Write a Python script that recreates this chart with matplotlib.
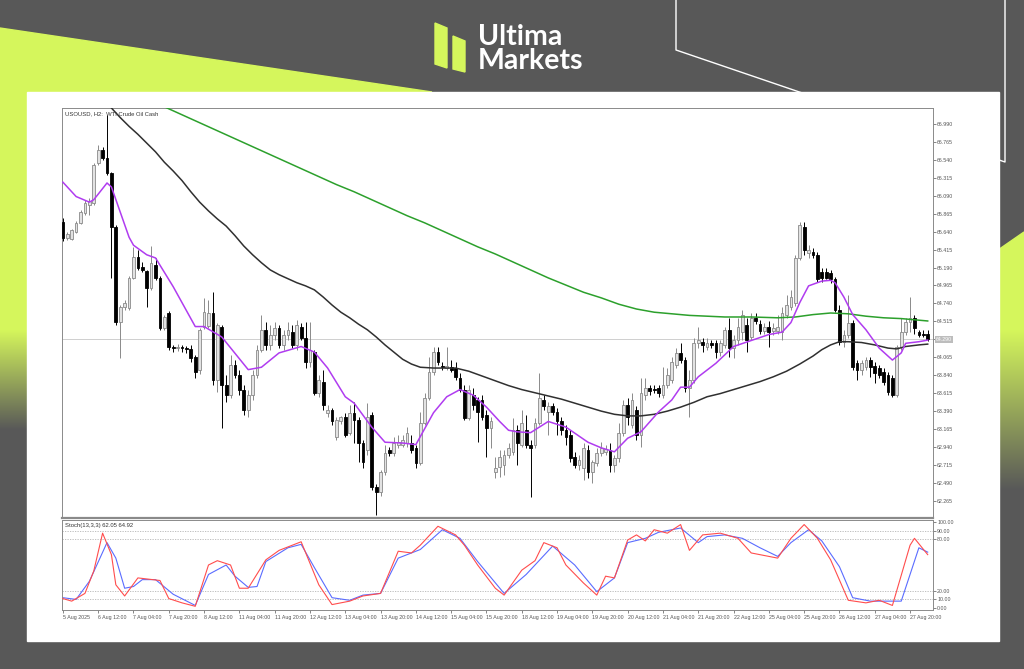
import numpy as np
import matplotlib.pyplot as plt
from matplotlib.patches import Polygon, Rectangle

# ---- USOUSD H2 candles ----
opens = [65.76, 65.56, 65.55, 65.64, 65.75, 65.87, 65.98, 66.00, 66.50, 66.66,
         66.56, 66.38, 65.70, 64.51, 64.70, 64.68, 65.06, 65.32, 65.20, 65.15,
         64.93, 65.22, 65.06, 64.43, 64.62, 64.19, 64.18, 64.19, 64.18, 64.17,
         64.07, 63.91, 64.45, 64.46, 64.62, 63.78, 64.45, 63.72, 63.59, 63.97,
         63.84, 63.66, 63.40, 63.59, 63.84, 64.16, 64.41, 64.22, 64.35, 64.43,
         64.22, 64.35, 64.38, 64.22, 64.45, 64.31, 64.01, 64.13, 63.62, 63.76,
         63.37, 63.41, 63.07, 63.26, 63.32, 63.12, 63.37, 63.28, 62.99, 62.90,
         63.34, 62.44, 62.37, 62.63, 62.90, 62.87, 62.97, 62.97, 62.99, 62.99,
         62.93, 62.74, 63.24, 63.56, 63.88, 64.13, 63.96, 63.93, 63.94, 63.93,
         63.81, 63.66, 63.30, 63.59, 63.53, 63.53, 63.34, 63.18, 62.63, 62.69,
         62.72, 62.84, 62.88, 63.15, 62.97, 63.15, 62.97, 62.97, 63.24, 63.53,
         63.38, 63.46, 63.38, 63.26, 63.15, 63.09, 62.82, 62.72, 62.68, 62.90,
         62.63, 62.74, 62.87, 62.88, 62.90, 62.72, 62.80, 63.12, 63.47, 63.22,
         63.40, 63.09, 63.59, 63.68, 63.67, 63.68, 63.59, 63.72, 63.78, 63.97,
         64.12, 64.03, 63.68, 63.78, 64.24, 64.26, 64.19, 64.24, 64.24, 64.13,
         64.22, 64.41, 64.18, 64.28, 64.38, 64.47, 64.32, 64.56, 64.48, 64.40,
         64.45, 64.40, 64.40, 64.38, 64.60, 64.70, 64.75, 65.31, 65.70, 65.37,
         65.39, 65.35, 65.14, 65.14, 65.12, 65.04, 64.66, 64.26, 64.35, 64.50,
         63.99, 63.91, 63.94, 64.03, 63.96, 63.93, 63.88, 63.84, 63.81, 63.59,
         64.19, 64.38, 64.51, 64.56, 64.38, 64.36, 64.36]
highs = [65.81, 65.64, 65.67, 65.77, 65.91, 66.04, 66.06, 66.50, 66.73, 66.70,
         67.10, 66.39, 65.72, 64.72, 64.78, 65.09, 65.45, 65.41, 65.26, 65.16,
         65.46, 65.31, 65.09, 64.60, 64.65, 64.22, 64.23, 64.22, 64.21, 64.22,
         64.09, 64.43, 64.81, 64.78, 64.88, 64.50, 64.47, 63.84, 64.09, 64.03,
         63.91, 63.72, 63.65, 63.91, 64.22, 64.60, 64.51, 64.47, 64.51, 64.47,
         64.41, 64.51, 64.47, 64.53, 64.50, 64.51, 64.51, 64.16, 63.84, 63.91,
         63.47, 63.43, 63.31, 63.33, 63.37, 63.47, 63.50, 63.31, 63.03, 63.49,
         63.38, 62.47, 62.65, 62.97, 62.94, 63.07, 63.09, 63.09, 63.19, 63.09,
         62.97, 63.38, 63.62, 64.07, 64.19, 64.19, 64.01, 64.19, 64.03, 64.01,
         63.87, 63.72, 63.72, 63.68, 63.57, 63.59, 63.40, 63.31, 62.82, 62.90,
         62.90, 62.99, 63.30, 63.22, 63.40, 63.34, 63.03, 63.30, 63.87, 63.59,
         63.50, 63.49, 63.43, 63.31, 63.22, 63.15, 62.88, 62.84, 62.99, 62.97,
         62.78, 62.93, 63.00, 62.97, 62.99, 62.84, 63.24, 63.53, 63.56, 63.62,
         63.45, 63.81, 63.81, 63.72, 63.72, 63.72, 63.94, 63.93, 64.07, 64.18,
         64.24, 64.07, 63.91, 64.31, 64.44, 64.31, 64.31, 64.28, 64.28, 64.28,
         64.45, 64.56, 64.35, 64.56, 64.66, 64.56, 64.62, 64.62, 64.53, 64.50,
         64.52, 64.50, 64.60, 64.69, 64.85, 64.91, 65.35, 65.76, 65.76, 65.47,
         65.44, 65.39, 65.19, 65.19, 65.16, 65.07, 64.72, 64.41, 64.85, 64.53,
         64.03, 64.03, 64.07, 64.07, 64.01, 63.97, 63.93, 63.88, 63.84, 64.22,
         64.56, 64.56, 64.82, 64.60, 64.41, 64.41, 64.41]
lows = [65.52, 65.54, 65.54, 65.62, 65.74, 65.85, 65.85, 65.98, 66.48, 66.54,
        66.35, 65.06, 64.47, 64.06, 64.66, 64.66, 65.05, 65.16, 65.14, 64.70,
        64.91, 65.03, 64.41, 64.41, 64.16, 64.13, 64.14, 64.13, 64.12, 64.01,
        63.81, 63.86, 64.42, 64.43, 63.72, 63.63, 63.18, 63.51, 63.56, 63.81,
        63.59, 63.34, 63.31, 63.53, 63.81, 64.13, 64.16, 64.16, 64.28, 64.18,
        64.16, 64.28, 64.18, 64.16, 64.28, 63.93, 63.94, 63.59, 63.57, 63.41,
        63.31, 63.22, 63.03, 63.23, 63.07, 63.09, 62.99, 62.75, 62.68, 62.84,
        62.40, 62.09, 62.32, 62.59, 62.83, 62.83, 62.93, 62.94, 62.94, 62.87,
        62.68, 62.72, 63.22, 63.53, 63.84, 63.97, 63.91, 63.91, 63.88, 63.78,
        63.63, 63.28, 63.28, 63.40, 63.00, 63.28, 62.82, 62.93, 62.55, 62.57,
        62.59, 62.80, 62.84, 62.72, 62.94, 62.93, 62.31, 62.93, 63.22, 63.40,
        63.09, 63.34, 63.09, 63.09, 62.97, 62.75, 62.68, 62.65, 62.53, 62.55,
        62.49, 62.70, 62.83, 62.84, 62.63, 62.63, 62.75, 63.08, 63.22, 63.18,
        63.03, 62.94, 63.53, 63.59, 63.62, 63.57, 63.56, 63.68, 63.74, 63.93,
        63.99, 63.63, 63.32, 63.74, 64.18, 64.13, 64.16, 64.18, 64.06, 64.08,
        64.18, 64.07, 64.06, 64.22, 64.28, 64.13, 64.28, 64.48, 64.36, 64.36,
        64.19, 64.35, 64.36, 64.28, 64.56, 64.66, 64.71, 65.29, 65.35, 65.31,
        65.31, 65.01, 65.01, 65.04, 65.00, 64.63, 64.22, 64.19, 64.31, 63.91,
        63.78, 63.84, 63.91, 63.82, 63.74, 63.81, 63.72, 63.59, 63.57, 63.57,
        64.16, 64.35, 64.38, 64.36, 64.32, 64.32, 64.27]
closes = [65.56, 65.61, 65.66, 65.75, 65.89, 66.00, 66.03, 66.48, 66.66, 66.56,
          66.38, 65.70, 64.51, 64.70, 64.75, 65.06, 65.32, 65.19, 65.16, 64.93,
          65.25, 65.06, 64.43, 64.57, 64.19, 64.18, 64.19, 64.18, 64.17, 64.06,
          63.88, 64.41, 64.63, 64.62, 63.78, 64.47, 63.72, 63.59, 63.97, 63.84,
          63.66, 63.40, 63.59, 63.84, 64.16, 64.41, 64.22, 64.35, 64.43, 64.22,
          64.35, 64.41, 64.22, 64.47, 64.31, 64.01, 64.16, 63.62, 63.78, 63.47,
          63.41, 63.26, 63.28, 63.31, 63.09, 63.37, 63.28, 62.99, 62.75, 63.32,
          62.44, 62.37, 62.63, 62.87, 62.87, 62.99, 63.00, 63.03, 63.12, 62.90,
          62.74, 63.24, 63.56, 63.88, 64.13, 64.01, 63.94, 63.95, 63.91, 63.82,
          63.66, 63.30, 63.66, 63.47, 63.38, 63.32, 63.18, 63.26, 62.68, 62.82,
          62.84, 62.93, 63.15, 62.99, 63.24, 62.97, 62.93, 63.24, 63.56, 63.46,
          63.46, 63.38, 63.26, 63.15, 63.07, 62.80, 62.72, 62.78, 62.93, 62.63,
          62.75, 62.87, 62.93, 62.92, 62.72, 62.80, 63.12, 63.47, 63.32, 63.53,
          63.09, 63.62, 63.68, 63.64, 63.66, 63.62, 63.72, 63.84, 64.01, 64.12,
          64.03, 63.68, 63.78, 64.24, 64.28, 64.22, 64.24, 64.22, 64.13, 64.24,
          64.41, 64.18, 64.28, 64.45, 64.60, 64.28, 64.56, 64.52, 64.40, 64.45,
          64.38, 64.43, 64.45, 64.62, 64.72, 64.82, 65.31, 65.72, 65.41, 65.41,
          65.35, 65.04, 65.06, 65.06, 65.04, 64.66, 64.26, 64.35, 64.50, 63.94,
          63.91, 63.99, 64.03, 63.94, 63.87, 63.84, 63.76, 63.63, 63.59, 64.19,
          64.38, 64.51, 64.56, 64.43, 64.35, 64.35, 64.29]

# moving averages (bar index, value)
ma_fast_idx = [0, 3, 6, 7, 10, 11, 15, 16, 19, 21, 25, 30, 32, 36, 42, 45, 49, 54, 57, 60,
               64, 66, 68, 70, 73, 77, 80, 81, 84, 87, 90, 93, 96, 99, 101, 103, 106, 110,
               114, 119, 122, 125, 128, 131, 135, 138, 140, 142, 144, 148, 152, 160, 163,
               165, 167, 169, 172, 174, 175, 177, 179, 182, 185, 188, 190, 191, 194, 196]
ma_fast_val = [66.26, 66.08, 66.01, 66.04, 66.25, 66.20, 65.57, 65.47, 65.35, 65.31, 64.95,
               64.45, 64.45, 64.32, 63.91, 63.94, 64.12, 64.20, 64.13, 63.93, 63.57, 63.49,
               63.34, 63.19, 63.00, 62.99, 62.97, 63.07, 63.37, 63.57, 63.66, 63.59, 63.44,
               63.26, 63.15, 63.13, 63.12, 63.26, 63.19, 63.00, 62.93, 62.88, 63.05, 63.13,
               63.38, 63.53, 63.69, 63.69, 63.82, 63.99, 64.20, 64.35, 64.38, 64.50, 64.75,
               64.96, 65.02, 65.03, 65.00, 64.82, 64.60, 64.41, 64.18, 64.03, 64.12, 64.24,
               64.26, 64.28]
ma_mid_idx = [11, 13, 15, 17, 19, 21, 23, 25, 27, 29, 31, 33, 35, 37, 39, 41, 43, 45, 47, 49,
              51, 53, 55, 57, 59, 61, 63, 65, 67, 69, 71, 73, 75, 77, 79, 81, 84, 89, 92, 95,
              98, 101, 104, 107, 110, 113, 116, 119, 122, 125, 128, 131, 134, 137, 140, 143,
              146, 149, 152, 155, 158, 161, 164, 167, 170, 172, 174, 176, 178, 181, 184, 187,
              189, 191, 194, 196]
ma_mid_val = [67.19, 67.07, 66.96, 66.86, 66.75, 66.64, 66.51, 66.40, 66.28, 66.14, 66.01,
              65.90, 65.80, 65.71, 65.59, 65.46, 65.35, 65.25, 65.16, 65.10, 65.05, 65.00,
              64.96, 64.91, 64.82, 64.72, 64.63, 64.56, 64.48, 64.41, 64.32, 64.22, 64.13,
              64.04, 63.98, 63.94, 63.93, 63.93, 63.89, 63.83, 63.77, 63.71, 63.66, 63.62,
              63.58, 63.54, 63.49, 63.44, 63.39, 63.35, 63.33, 63.33, 63.35, 63.39, 63.44,
              63.50, 63.57, 63.61, 63.66, 63.71, 63.76, 63.82, 63.89, 63.98, 64.08, 64.16,
              64.22, 64.26, 64.26, 64.25, 64.22, 64.18, 64.17, 64.20, 64.22, 64.23]
ma_slow_idx = [18, 22, 26, 30, 34, 38, 42, 46, 50, 54, 58, 62, 66, 70, 74, 78, 82, 86, 90, 94,
               98, 102, 106, 110, 114, 118, 122, 126, 130, 134, 138, 142, 146, 150, 156, 162,
               166, 170, 174, 178, 182, 186, 190, 194, 196]
ma_slow_val = [67.33, 67.23, 67.13, 67.03, 66.93, 66.83, 66.73, 66.63, 66.53, 66.43, 66.33,
               66.23, 66.14, 66.04, 65.94, 65.84, 65.75, 65.65, 65.55, 65.45, 65.36, 65.26,
               65.16, 65.06, 64.97, 64.88, 64.81, 64.73, 64.67, 64.63, 64.61, 64.59, 64.58,
               64.57, 64.57, 64.56, 64.57, 64.60, 64.62, 64.61, 64.58, 64.56, 64.55, 64.53,
               64.52]

# stochastic (13,3,3)
stoch_k_idx = [0, 2, 5, 7, 9, 11, 12, 14, 17, 22, 24, 27, 30, 33, 35, 38, 40, 42, 46, 49, 53,
               54, 58, 61, 65, 68, 72, 76, 79, 81, 85, 89, 91, 94, 98, 100, 104, 107, 109, 112,
               114, 118, 121, 123, 125, 128, 130, 132, 134, 137, 140, 142, 145, 149, 153, 156,
               162, 165, 168, 171, 174, 178, 182, 185, 188, 192, 193, 196]
stoch_k_val = [11, 8, 17, 43, 87, 62, 27, 14, 35, 32, 11, 6, 2, 50, 55, 50, 23, 23, 56, 67, 75,
               77, 27, 4, 8, 14, 17, 66, 64, 73, 95, 85, 73, 50, 23, 15, 44, 55, 76, 70, 50, 29,
               15, 37, 35, 79, 85, 78, 91, 87, 97, 67, 85, 87, 81, 64, 58, 81, 97, 81, 56, 9,
               6, 9, 3, 73, 81, 62.05]
stoch_d_idx = [0, 3, 6, 10, 12, 14, 16, 18, 21, 25, 30, 33, 37, 39, 42, 44, 46, 51, 54, 57, 61,
               65, 68, 72, 76, 81, 86, 90, 94, 100, 105, 111, 116, 121, 125, 128, 132, 135, 140,
               144, 146, 150, 154, 158, 162, 165, 169, 172, 176, 179, 183, 187, 190, 194, 196]
stoch_d_val = [12, 10, 31, 76, 58, 23, 25, 33, 33, 16, 3, 39, 50, 37, 24, 25, 54, 70, 74, 47,
               12, 9, 15, 17, 58, 68, 91, 81, 54, 17, 39, 72, 50, 19, 35, 76, 81, 88, 93, 76,
               83, 85, 81, 70, 60, 76, 91, 78, 48, 12, 8, 8, 8, 70, 64.92]

price_ticks = [66.990, 66.765, 66.540, 66.315, 66.090, 65.865, 65.640, 65.415, 65.190, 64.965,
               64.740, 64.515, 64.290, 64.065, 63.840, 63.615, 63.390, 63.165, 62.940, 62.715,
               62.490, 62.265]
time_labels = ["5 Aug 2025", "6 Aug 12:00", "7 Aug 04:00", "7 Aug 20:00", "8 Aug 12:00",
               "11 Aug 04:00", "11 Aug 20:00", "12 Aug 12:00", "13 Aug 04:00", "13 Aug 20:00",
               "14 Aug 12:00", "15 Aug 04:00", "15 Aug 20:00", "18 Aug 12:00", "19 Aug 04:00",
               "19 Aug 20:00", "20 Aug 12:00", "21 Aug 04:00", "21 Aug 20:00", "22 Aug 12:00",
               "25 Aug 04:00", "25 Aug 20:00", "26 Aug 12:00", "27 Aug 04:00", "27 Aug 20:00"]
label_step = 8  # bars between time labels

GREY = '#585858'
LIME = '#d5f65c'
W, H = 1024, 669
SMALL = dict(fontsize=3.8, fontfamily='Liberation Sans')

fig = plt.figure(figsize=(10.24, 6.69), dpi=100)
fig.patch.set_facecolor(GREY)

# ---- branded background ----
bg = fig.add_axes([0, 0, 1, 1])
bg.axis('off')


def vgrad(x0, x1, y0, y1, c0, c1):
    a = np.array(plt.matplotlib.colors.to_rgb(c0))
    b = np.array(plt.matplotlib.colors.to_rgb(c1))
    t = np.linspace(0, 1, 200)[:, None, None]
    img = a * (1 - t) + b * t
    bg.imshow(img, extent=(x0, x1, y1, y0), aspect='auto', interpolation='bilinear', zorder=1)


bg.add_patch(Polygon([(0, 28), (432, 92), (0, 92)], closed=True, color=LIME, zorder=1))
bg.add_patch(Rectangle((0, 90), 28, 240, color=LIME, zorder=1))
vgrad(0, 28, 330, 430, LIME, GREY)
bg.add_patch(Polygon([(998, 250), (1024, 232), (1024, 332), (998, 332)], closed=True, color=LIME, zorder=1))
vgrad(998, 1024, 330, 490, LIME, GREY)
bg.plot([676, 676, 1005, 1005], [0, 50, 162, 0], color='white', lw=1.0, zorder=2)

# logo
bg.add_patch(Polygon([(435, 23), (447, 28), (447, 68), (435, 64)], closed=True, color=LIME, zorder=3))
bg.add_patch(Polygon([(453, 36), (465, 41), (465, 72), (453, 69)], closed=True, color=LIME, zorder=3))
bg.text(478, 45, 'Ultima', color='white', fontsize=20.5, fontfamily='Lato', fontweight='bold',
        va='baseline', ha='left', zorder=3)
bg.text(478, 69, 'Markets', color='white', fontsize=20.5, fontfamily='Lato', fontweight='bold',
        va='baseline', ha='left', zorder=3)

# white card
bg.add_patch(Rectangle((27, 92), 972, 549, color='white', zorder=4))
bg.set_xlim(0, W)
bg.set_ylim(H, 0)


# ---- price pane ----
def frac(x0, y0, x1, y1):
    return [x0 / W, 1 - y1 / H, (x1 - x0) / W, (y1 - y0) / H]


ax = fig.add_axes(frac(62, 108, 933, 518))
sx = fig.add_axes(frac(62, 520, 933, 610))

o = np.array(opens); hi = np.array(highs); lo = np.array(lows); c = np.array(closes)
x = np.arange(len(c))
up = c >= o
body_lo = np.minimum(o, c)
body_h = np.maximum(np.abs(c - o), 0.012)

ax.vlines(x[up], lo[up], hi[up], color='#8a8a8a', lw=0.7, zorder=2)
ax.vlines(x[~up], lo[~up], hi[~up], color='#000000', lw=0.7, zorder=2)
ax.bar(x[up], body_h[up], bottom=body_lo[up], width=0.62, facecolor='#e2e2e2',
       edgecolor='#8a8a8a', lw=0.6, zorder=3)
ax.bar(x[~up], body_h[~up], bottom=body_lo[~up], width=0.62, facecolor='#000000',
       edgecolor='#000000', lw=0.6, zorder=3)

ax.plot(ma_slow_idx, ma_slow_val, color='#2ca02c', lw=1.1, zorder=4)
ax.plot(ma_mid_idx, ma_mid_val, color='#303030', lw=1.1, zorder=4)
ax.plot(ma_fast_idx, ma_fast_val, color='#b03cf0', lw=1.1, zorder=4)
ax.axhline(closes[-1], color='#c8c8c8', lw=0.6, zorder=1)

ax.set_xlim(-0.2, 197.2)
ax.set_ylim(62.05, 67.19)
ax.set_xticks([])
ax.yaxis.tick_right()
ax.set_yticks(price_ticks)
ax.set_yticklabels(['' if abs(p - closes[-1]) < 0.01 else f'{p:.3f}' for p in price_ticks],
                   **SMALL)
ax.tick_params(axis='y', length=2, width=0.5, pad=1, colors='#555555')
for s in ax.spines.values():
    s.set_color('#8a8a8a')
    s.set_linewidth(0.7)
ax.spines['bottom'].set_linewidth(1.6)
ax.text(1.003, closes[-1], f'{closes[-1]:.3f}', transform=ax.get_yaxis_transform(),
        color='white', va='center', ha='left', **SMALL,
        bbox=dict(boxstyle='square,pad=0.15', fc='#bdbdbd', ec='none'))
ax.text(0.003, 0.992, 'USOUSD, H2:  WTI Crude Oil Cash', transform=ax.transAxes,
        color='#333333', va='top', ha='left', fontsize=4.2, fontfamily='Liberation Sans')

# ---- stochastic pane ----
for lvl in (10, 20, 80, 90):
    sx.axhline(lvl, color='#b5b5b5', lw=0.6, ls=(0, (1.5, 1.5)), zorder=1)
sx.plot(stoch_d_idx, stoch_d_val, color='#5a6cff', lw=0.8, zorder=2)
sx.plot(stoch_k_idx, stoch_k_val, color='#ff4d4d', lw=0.8, zorder=3)
sx.set_xlim(-0.2, 197.2)
sx.set_ylim(-2.3, 102.3)
sx.yaxis.tick_right()
sx.set_yticks([0, 10, 20, 80, 90, 100])
sx.set_yticklabels(['0.00', '10.00', '20.00', '80.00', '90.00', '100.00'], **SMALL)
sx.tick_params(axis='y', length=2, width=0.5, pad=1, colors='#555555')
sx.set_xticks(np.arange(len(time_labels)) * label_step)
sx.set_xticklabels(time_labels, **SMALL)
sx.tick_params(axis='x', length=2.5, width=0.5, pad=1, colors='#555555')
for lab in sx.get_xticklabels():
    lab.set_ha('left')
for s in sx.spines.values():
    s.set_color('#8a8a8a')
    s.set_linewidth(0.7)
sx.text(0.003, 0.97, f'Stoch(13,3,3) {stoch_k_val[-1]:.2f} {stoch_d_val[-1]:.2f}',
        transform=sx.transAxes, color='#333333', va='top', ha='left', fontsize=4.2,
        fontfamily='Liberation Sans')

fig.savefig('out.png', dpi=100, facecolor=fig.get_facecolor())
